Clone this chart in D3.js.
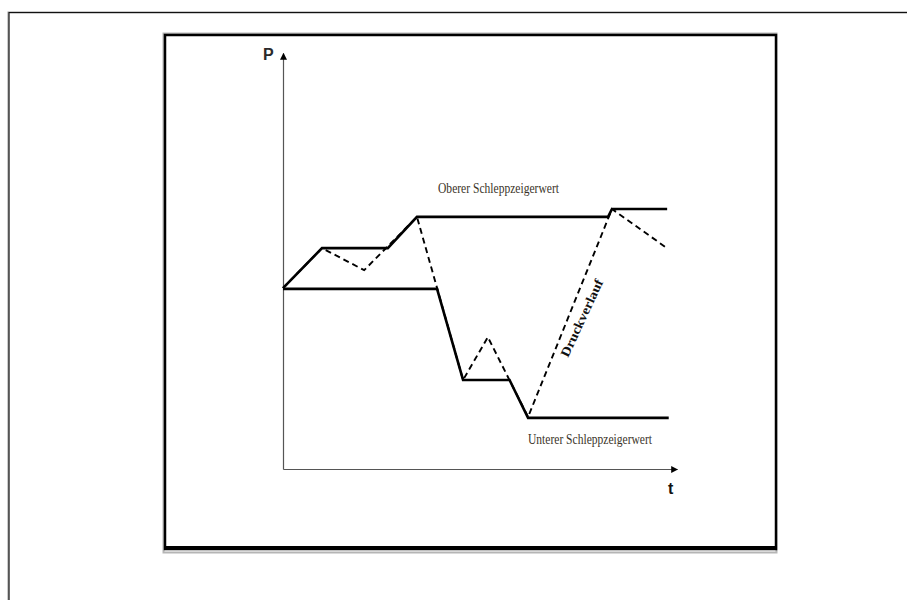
<!DOCTYPE html>
<html>
<head>
<meta charset="utf-8">
<script src="https://cdn.jsdelivr.net/npm/d3@7"></script>
<style>
  body { margin: 0; background: #fff; }
  svg { display: block; }
</style>
</head>
<body>
<div id="chart"></div>
<script>
// Druckverlauf (dashed) and drag-pointer lines
const tPressure = [0, 9.9, 20.6, 34.0, 45.7, 52.0, 62.2, 83.5, 97.0];
const pPressure = [43.5, 53.1, 47.8, 60.6, 21.4, 31.7, 12.5, 62.5, 53.4];

const tUpper = [0, 9.9, 26.6, 34.0, 82.5, 83.5, 97.5];
const pUpper = [43.5, 53.1, 53.1, 60.6, 60.6, 62.5, 62.5];

const tLower = [0, 39.1, 45.7, 57.5, 62.2, 97.9];
const pLower = [43.3, 43.3, 21.4, 21.4, 12.3, 12.3];

const labels = ['Oberer Schleppzeigerwert', 'Unterer Schleppzeigerwert', 'Druckverlauf'];
const axisLabels = ['P', 't'];

const W = 907, H = 600;
const svg = d3.select('#chart').append('svg')
    .attr('width', W)
    .attr('height', H);

// page frame
svg.append('rect')
    .attr('x', 8.5).attr('y', 12.5)
    .attr('width', W + 20).attr('height', H + 20)
    .attr('fill', 'none')
    .attr('stroke', '#9a9a9a')
    .attr('stroke-width', 2);
svg.append('rect')
    .attr('x', 9).attr('y', 12.5)
    .attr('width', W + 20).attr('height', H + 20)
    .attr('fill', 'none')
    .attr('stroke', '#111')
    .attr('stroke-width', 1);

// figure box with shadow
svg.append('rect')
    .attr('x', 163.5).attr('y', 33.5)
    .attr('width', 613).attr('height', 519)
    .attr('fill', 'none')
    .attr('stroke', '#b5b5b5')
    .attr('stroke-width', 2);
svg.append('rect')
    .attr('x', 165).attr('y', 35)
    .attr('width', 611).attr('height', 514)
    .attr('fill', 'none')
    .attr('stroke', '#000')
    .attr('stroke-width', 2.5);
svg.append('line')
    .attr('x1', 164).attr('x2', 777)
    .attr('y1', 548).attr('y2', 548)
    .attr('stroke', '#000')
    .attr('stroke-width', 4);

const x = d3.scaleLinear().domain([0, 100]).range([283, 677]);
const y = d3.scaleLinear().domain([0, 100]).range([469, 53]);

// arrow heads
const defs = svg.append('defs');
defs.append('marker')
    .attr('id', 'arrow')
    .attr('viewBox', '0 0 10 10')
    .attr('refX', 9).attr('refY', 5)
    .attr('markerWidth', 7).attr('markerHeight', 7)
    .attr('markerUnits', 'userSpaceOnUse')
    .attr('orient', 'auto')
    .append('path')
    .attr('d', 'M0,0L10,5L0,10Z')
    .attr('fill', '#000');

// axes without ticks
const xAxis = svg.append('g')
    .attr('transform', `translate(0,${y(0)})`)
    .call(d3.axisBottom(x).ticks(0).tickSizeOuter(0));
const yAxis = svg.append('g')
    .attr('transform', `translate(${x(0)},0)`)
    .call(d3.axisLeft(y).ticks(0).tickSizeOuter(0));
[xAxis, yAxis].forEach(g => g.select('.domain')
    .attr('stroke', '#555')
    .attr('stroke-width', 1.2)
    .attr('marker-end', 'url(#arrow)'));

svg.append('text')
    .attr('x', 263).attr('y', 60)
    .attr('font-family', 'Liberation Sans, Arial, sans-serif')
    .attr('font-size', 16)
    .attr('font-weight', 'bold')
    .attr('fill', '#2a2a2a')
    .text(axisLabels[0]);
svg.append('text')
    .attr('x', 668).attr('y', 494)
    .attr('font-family', 'Liberation Sans, Arial, sans-serif')
    .attr('font-size', 16)
    .attr('font-weight', 'bold')
    .attr('fill', '#111')
    .text(axisLabels[1]);

const line = d3.line()
    .x(d => x(d[0]))
    .y(d => y(d[1]));

const zip = (a, b) => a.map((v, i) => [v, b[i]]);

svg.append('path')
    .attr('d', line(zip(tUpper, pUpper)))
    .attr('fill', 'none')
    .attr('stroke', '#000')
    .attr('stroke-width', 2.6);

svg.append('path')
    .attr('d', line(zip(tLower, pLower)))
    .attr('fill', 'none')
    .attr('stroke', '#000')
    .attr('stroke-width', 2.6);

svg.append('path')
    .attr('d', line(zip(tPressure, pPressure)))
    .attr('fill', 'none')
    .attr('stroke', '#000')
    .attr('stroke-width', 1.9)
    .attr('stroke-dasharray', '6,4');

// labels
svg.append('text')
    .attr('x', 438).attr('y', 193)
    .attr('font-family', 'Liberation Serif, Times New Roman, serif')
    .attr('font-size', 14)
    .attr('textLength', 121)
    .attr('lengthAdjust', 'spacingAndGlyphs')
    .attr('fill', '#3a3328')
    .text(labels[0]);

svg.append('text')
    .attr('x', 528).attr('y', 444)
    .attr('font-family', 'Liberation Serif, Times New Roman, serif')
    .attr('font-size', 14)
    .attr('textLength', 124)
    .attr('lengthAdjust', 'spacingAndGlyphs')
    .attr('fill', '#3a3328')
    .text(labels[1]);

svg.append('text')
    .attr('transform', 'translate(568,358) rotate(-65)')
    .attr('font-family', 'Liberation Serif, Times New Roman, serif')
    .attr('font-size', 13)
    .attr('font-weight', 'bold')
    .attr('textLength', 84)
    .attr('lengthAdjust', 'spacingAndGlyphs')
    .attr('fill', '#111')
    .text(labels[2]);
</script>
</body>
</html>
